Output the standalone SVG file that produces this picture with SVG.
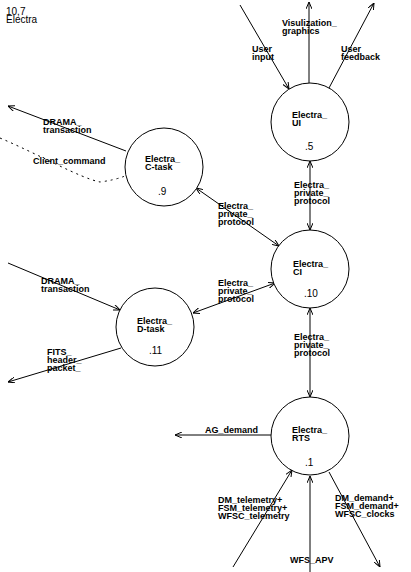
<svg xmlns="http://www.w3.org/2000/svg" width="411" height="572" viewBox="0 0 411 572">
<style>
.bg{fill:#fff}
.node{fill:#fff;stroke:#000;stroke-width:1}
.c{stroke:#000;stroke-width:1;fill:none}
.dot{stroke:#000;stroke-width:1;fill:none;stroke-dasharray:2,4}
.lbl{font-family:"Liberation Sans",Arial,sans-serif;font-weight:bold;font-size:9px;fill:#000}
.num{font-family:"Liberation Sans",Arial,sans-serif;font-size:10px;fill:#000}
</style>
<defs>
<marker id="a" viewBox="0 0 7 6" refX="7" refY="3" markerWidth="7" markerHeight="6" markerUnits="userSpaceOnUse" orient="auto-start-reverse">
<path d="M0,0 L7,3 L0,6" fill="none" stroke="#000" stroke-width="1"/>
</marker>
</defs>
<rect class="bg" x="0" y="0" width="411" height="572"/>
<text class="num" x="6" y="15">10,7</text>
<text class="num" x="6" y="23">Electra</text>
<g id="connectors">
<path class="c" d="M240,5 L289,89" marker-end="url(#a)"/>
<path class="c" d="M309,83 L309,2" marker-end="url(#a)"/>
<path class="c" d="M329,88 L374,3" marker-end="url(#a)"/>
<path class="c" d="M310,161 L310,230" marker-start="url(#a)" marker-end="url(#a)"/>
<path class="c" d="M196,188 L279,246" marker-start="url(#a)" marker-end="url(#a)"/>
<path class="c" d="M193,313 L275,283" marker-start="url(#a)" marker-end="url(#a)"/>
<path class="c" d="M310,308 L310,397" marker-start="url(#a)" marker-end="url(#a)"/>
<path class="c" d="M271,435 L175,435" marker-end="url(#a)"/>
<path class="c" d="M233,567 L292,470" marker-end="url(#a)"/>
<path class="c" d="M310,572 L310,476" marker-end="url(#a)"/>
<path class="c" d="M329,472 L380,567" marker-end="url(#a)"/>
<path class="c" d="M126,151 L8,106" marker-end="url(#a)"/>
<path class="dot" d="M0,138 C40,155 80,178 100,182 Q115,180 125,176"/>
<path class="c" d="M8,263 L120,310" marker-end="url(#a)"/>
<path class="c" d="M121,348 L8,382" marker-end="url(#a)"/>
<text class="lbl" x="252" y="52">User</text>
<text class="lbl" x="252" y="60">input</text>
<text class="lbl" x="282" y="26">Visulization_</text>
<text class="lbl" x="282" y="34">graphics</text>
<text class="lbl" x="341" y="52">User</text>
<text class="lbl" x="341" y="60">feedback</text>
<text class="lbl" x="294" y="188">Electra_</text>
<text class="lbl" x="294" y="196">private_</text>
<text class="lbl" x="294" y="204">protocol</text>
<text class="lbl" x="218" y="209">Electra_</text>
<text class="lbl" x="218" y="217">private_</text>
<text class="lbl" x="218" y="225">protocol</text>
<text class="lbl" x="218" y="286">Electra_</text>
<text class="lbl" x="218" y="294">private_</text>
<text class="lbl" x="218" y="302">protocol</text>
<text class="lbl" x="294" y="340">Electra_</text>
<text class="lbl" x="294" y="348">private_</text>
<text class="lbl" x="294" y="356">protocol</text>
<text class="lbl" x="205" y="433">AG_demand</text>
<text class="lbl" x="218" y="503">DM_telemetry+</text>
<text class="lbl" x="218" y="511">FSM_telemetry+</text>
<text class="lbl" x="218" y="519">WFSC_telemetry</text>
<text class="lbl" x="290" y="563">WFS_APV</text>
<text class="lbl" x="335" y="501">DM_demand+</text>
<text class="lbl" x="335" y="509">FSM_demand+</text>
<text class="lbl" x="335" y="517">WFSC_clocks</text>
<text class="lbl" x="43" y="125">DRAMA_</text>
<text class="lbl" x="43" y="133">transaction</text>
<text class="lbl" x="33" y="164">Client_command</text>
<text class="lbl" x="41" y="284">DRAMA_</text>
<text class="lbl" x="41" y="292">transaction</text>
<text class="lbl" x="47" y="355">FITS_</text>
<text class="lbl" x="47" y="363">header_</text>
<text class="lbl" x="47" y="371">packet_</text>
</g>
<g id="ui">
<circle class="node" cx="310" cy="122" r="39"/>
<text class="lbl" x="292" y="118">Electra_</text>
<text class="lbl" x="292" y="126">UI</text>
<text class="num" x="305" y="150">.5</text>
</g>
<g id="ctask">
<circle class="node" cx="164" cy="167" r="39"/>
<text class="lbl" x="145" y="162">Electra_</text>
<text class="lbl" x="145" y="170">C-task</text>
<text class="num" x="158" y="195">.9</text>
</g>
<g id="ci">
<circle class="node" cx="310" cy="269" r="39"/>
<text class="lbl" x="293" y="267">Electra_</text>
<text class="lbl" x="293" y="275">CI</text>
<text class="num" x="304" y="297">.10</text>
</g>
<g id="dtask">
<circle class="node" cx="155" cy="327" r="39"/>
<text class="lbl" x="137" y="324">Electra_</text>
<text class="lbl" x="137" y="332">D-task</text>
<text class="num" x="149" y="354">.11</text>
</g>
<g id="rts">
<circle class="node" cx="310" cy="436" r="39"/>
<text class="lbl" x="292" y="433">Electra_</text>
<text class="lbl" x="292" y="441">RTS</text>
<text class="num" x="305" y="466">.1</text>
</g>
</svg>
